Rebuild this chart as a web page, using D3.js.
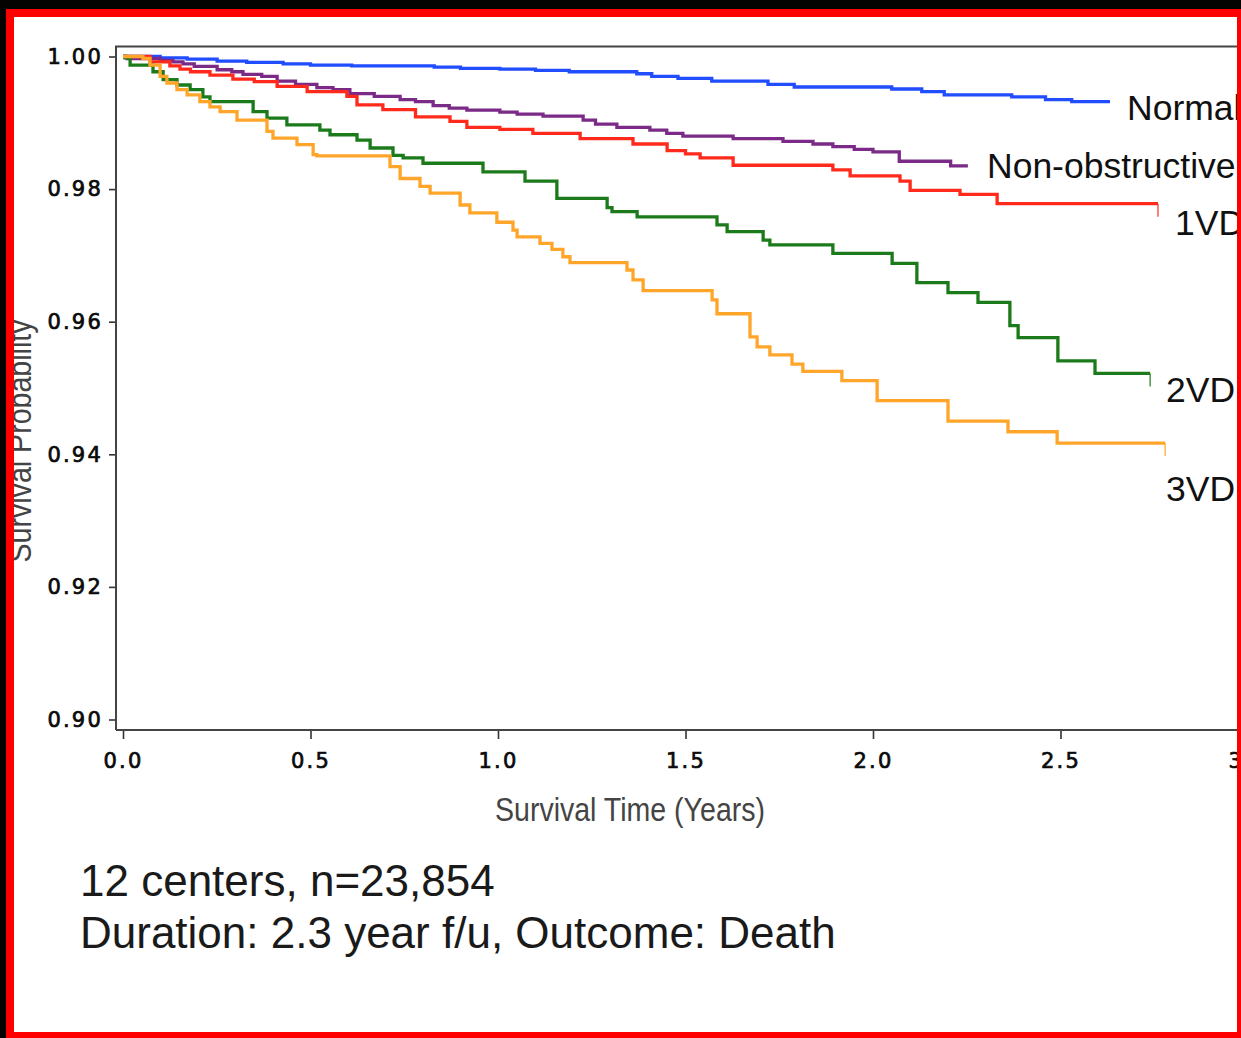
<!DOCTYPE html>
<html>
<head>
<meta charset="utf-8">
<script src="https://cdn.jsdelivr.net/npm/d3@7"></script>
<style>
  body { margin: 0; background: #000; }
  svg { display: block; }
</style>
</head>
<body>
<script>
// Kaplan-Meier steps: [years, survival]
var normal = [[0,1],[0.099,0.9998],[0.171,0.9996],[0.251,0.9993],[0.33,0.9991],[0.427,0.9989],
  [0.5,0.9987],[0.61,0.9986],[0.83,0.9984],[0.9,0.9982],[1.005,0.9981],[1.1,0.9979],[1.19,0.9977],
  [1.37,0.9974],[1.41,0.9970],[1.48,0.9967],[1.57,0.9963],[1.72,0.9958],[1.79,0.9954],[2.05,0.9951],
  [2.13,0.9947],[2.19,0.9942],[2.37,0.9939],[2.46,0.9935],[2.53,0.9932],[2.632,0.9932]];

var nonObstructive = [[0,1],[0.011,0.9997],[0.099,0.9994],[0.133,0.9992],[0.16,0.9989],[0.19,0.9985],
  [0.251,0.9980],[0.29,0.9977],[0.32,0.9973],[0.37,0.9970],[0.411,0.9963],[0.46,0.9958],[0.517,0.9953],
  [0.56,0.9950],[0.605,0.9944],[0.67,0.9940],[0.739,0.9935],[0.78,0.9932],[0.827,0.9926],[0.87,0.9922],
  [0.917,0.9919],[1.005,0.9916],[1.051,0.9913],[1.12,0.9910],[1.227,0.9904],[1.26,0.9898],[1.317,0.9893],
  [1.405,0.9889],[1.45,0.9884],[1.493,0.9880],[1.627,0.9876],[1.76,0.9872],[1.84,0.9868],[1.893,0.9864],
  [1.95,0.9860],[2.0,0.9856],[2.07,0.9842],[2.207,0.9835],[2.253,0.9835]];

var vd1 = [[0,1],[0.072,0.9992],[0.125,0.9986],[0.152,0.9981],[0.18,0.9977],[0.232,0.9972],[0.293,0.9966],
  [0.35,0.9962],[0.411,0.9955],[0.491,0.9947],[0.597,0.9940],[0.624,0.9927],[0.693,0.9920],[0.78,0.9909],
  [0.872,0.9902],[0.917,0.9893],[1.005,0.9890],[1.093,0.9884],[1.219,0.9876],[1.36,0.9868],[1.451,0.9858],
  [1.5,0.9853],[1.539,0.9847],[1.627,0.9836],[1.893,0.9829],[1.939,0.9820],[2.072,0.9812],[2.099,0.9798],
  [2.232,0.9792],[2.331,0.9778],[2.76,0.9778]];

var vd2 = [[0,1],[0.005,0.9998],[0.019,0.9987],[0.08,0.9977],[0.107,0.9965],[0.144,0.9957],[0.179,0.9950],
  [0.213,0.9939],[0.232,0.9932],[0.347,0.9917],[0.384,0.9907],[0.437,0.9897],[0.525,0.9889],[0.552,0.9882],
  [0.624,0.9874],[0.659,0.9862],[0.72,0.9851],[0.747,0.9847],[0.8,0.9839],[0.96,0.9826],[1.072,0.9812],
  [1.157,0.9786],[1.291,0.9772],[1.304,0.9766],[1.371,0.9758],[1.584,0.9746],[1.611,0.9736],[1.707,0.9723],
  [1.725,0.9716],[1.893,0.9703],[2.051,0.9688],[2.117,0.9659],[2.2,0.9644],[2.28,0.9629],[2.365,0.9594],
  [2.387,0.9576],[2.493,0.9541],[2.592,0.9522],[2.739,0.9522]];

var vd3 = [[0,1],[0.053,0.9997],[0.072,0.9987],[0.099,0.9970],[0.117,0.9960],[0.144,0.9950],[0.171,0.9942],
  [0.205,0.9932],[0.232,0.9924],[0.259,0.9917],[0.304,0.9904],[0.384,0.9887],[0.4,0.9877],[0.464,0.9867],
  [0.507,0.9852],[0.517,0.9850],[0.712,0.9834],[0.739,0.9816],[0.792,0.9804],[0.819,0.9794],[0.899,0.9776],
  [0.925,0.9764],[0.997,0.9750],[1.04,0.9738],[1.051,0.9728],[1.112,0.9718],[1.144,0.9709],[1.173,0.9698],
  [1.192,0.9689],[1.344,0.9678],[1.36,0.9663],[1.387,0.9647],[1.571,0.9633],[1.584,0.9612],[1.672,0.9577],
  [1.691,0.9562],[1.725,0.9550],[1.784,0.9536],[1.813,0.9525],[1.917,0.9511],[2.011,0.9481],[2.2,0.9450],
  [2.36,0.9434],[2.491,0.9417],[2.779,0.9417]];

var seriesNames = ['Normal', 'Non-obstructive', '1VD', '2VD', '3VD'];
var seriesData = [normal, nonObstructive, vd1, vd2, vd3];
var xTicks = [0, 0.5, 1, 1.5, 2, 2.5, 3];
var yTicks = [0.90, 0.92, 0.94, 0.96, 0.98, 1.00];
var notes = ['12 centers, n=23,854', 'Duration: 2.3 year f/u, Outcome: Death'];

/* ===== layout ===== */
var w = 1241, h = 1038;
var colors = ['#1f4dff', '#7b2a88', '#ff2a1c', '#1b7b1b', '#ffa52a'];
var censorTick = [false, false, true, true, true];
var labelPos = [[1127, 120], [987, 178], [1175, 235], [1166, 402], [1166, 501]];

var svg = d3.select('body').append('svg')
  .attr('width', w)
  .attr('height', h);

svg.append('rect').attr('width', w).attr('height', h).attr('fill', '#050302');
svg.append('rect').attr('x', 6).attr('y', 9).attr('width', w).attr('height', h).attr('fill', '#ff0000');
svg.append('rect').attr('x', 14).attr('y', 17).attr('width', 1223).attr('height', 1015).attr('fill', '#fff');

/* ===== scales and axes ===== */
var xScale = d3.scaleLinear().domain([0, 3]).range([123, 1248]);
var yScale = d3.scaleLinear().domain([0.90, 1.00]).range([719.5, 56.5]);

var frameLeft = 116, frameTop = 46.5, frameBottom = 730;

var xAxis = d3.axisBottom(xScale)
  .tickValues(xTicks)
  .tickSize(9)
  .tickPadding(14)
  .tickFormat(d3.format('.1f'));

var yAxis = d3.axisLeft(yScale)
  .tickValues(yTicks)
  .tickSize(7)
  .tickPadding(7)
  .tickFormat(d3.format('.2f'));

var gx = svg.append('g')
  .attr('transform', 'translate(0,' + frameBottom + ')')
  .call(xAxis);
gx.select('.domain').remove();

var gy = svg.append('g')
  .attr('transform', 'translate(' + frameLeft + ',0)')
  .call(yAxis);
gy.select('.domain').remove();

[gx, gy].forEach(function(g) {
  g.selectAll('line').attr('stroke', '#333').attr('stroke-width', 1.6);
  g.selectAll('text')
    .attr('fill', '#0a0a0a')
    .attr('stroke', '#0a0a0a')
    .attr('stroke-width', 0.7)
    .style('font-family', '"DejaVu Sans", sans-serif')
    .style('font-size', '21px')
    .style('letter-spacing', '2.2px');
});
gy.selectAll('text').attr('dx', 1);

// plot frame
svg.append('path')
  .attr('d', 'M' + frameLeft + ',' + frameBottom + 'V' + frameTop + 'H' + w + 'M' + frameLeft + ',' + frameBottom + 'H' + w)
  .attr('fill', 'none')
  .attr('stroke', '#444')
  .attr('stroke-width', 2);

/* ===== survival curves ===== */
var line = d3.line()
  .x(function(d) { return xScale(d[0]); })
  .y(function(d) { return yScale(d[1]); })
  .curve(d3.curveStepAfter);

seriesData.forEach(function(data, i) {
  svg.append('path')
    .datum(data)
    .attr('d', line)
    .attr('fill', 'none')
    .attr('stroke', colors[i])
    .attr('stroke-width', 3.3);

  if (censorTick[i]) {
    var last = data[data.length - 1];
    svg.append('line')
      .attr('x1', xScale(last[0])).attr('x2', xScale(last[0]))
      .attr('y1', yScale(last[1])).attr('y2', yScale(last[1]) + 13)
      .attr('stroke', colors[i])
      .attr('stroke-width', 1.2);
  }

  svg.append('text')
    .attr('x', labelPos[i][0])
    .attr('y', labelPos[i][1])
    .attr('fill', '#111')
    .style('font-family', '"Liberation Sans", Arial, sans-serif')
    .style('font-size', '35.5px')
    .text(seriesNames[i]);
});

/* ===== axis titles ===== */
svg.append('text')
  .attr('x', 630)
  .attr('y', 821)
  .attr('text-anchor', 'middle')
  .attr('fill', '#444')
  .attr('textLength', 270)
  .attr('lengthAdjust', 'spacingAndGlyphs')
  .style('font-family', '"Liberation Sans Narrow", "Liberation Sans", sans-serif')
  .style('font-size', '33px')
  .text('Survival Time (Years)');

svg.append('text')
  .attr('transform', 'translate(31,441) rotate(-90)')
  .attr('text-anchor', 'middle')
  .attr('fill', '#444')
  .attr('textLength', 243)
  .attr('lengthAdjust', 'spacingAndGlyphs')
  .style('font-family', '"Liberation Sans Narrow", "Liberation Sans", sans-serif')
  .style('font-size', '33px')
  .text('Survival Probability');

/* ===== notes ===== */
svg.selectAll('.note')
  .data(notes)
  .enter()
  .append('text')
  .attr('class', 'note')
  .attr('x', 80)
  .attr('y', function(d, i) { return 896 + i * 52; })
  .attr('fill', '#1a1a1a')
  .style('font-family', '"Liberation Sans", Arial, sans-serif')
  .style('font-size', '44px')
  .text(function(d) { return d; });

/* ===== outer border drawn on top ===== */
svg.append('rect').attr('x', 0).attr('y', 0).attr('width', 6).attr('height', h).attr('fill', '#050302');
svg.append('rect').attr('x', 0).attr('y', 0).attr('width', w).attr('height', 9).attr('fill', '#050302');
svg.append('rect').attr('x', 6).attr('y', 9).attr('width', 8).attr('height', h).attr('fill', '#ff0000');
svg.append('rect').attr('x', 6).attr('y', 9).attr('width', w).attr('height', 8).attr('fill', '#ff0000');
svg.append('rect').attr('x', 1237).attr('y', 9).attr('width', 4).attr('height', h).attr('fill', '#ff0000');
svg.append('rect').attr('x', 6).attr('y', 1032).attr('width', w).attr('height', 6).attr('fill', '#ff0000');
</script>
</body>
</html>
